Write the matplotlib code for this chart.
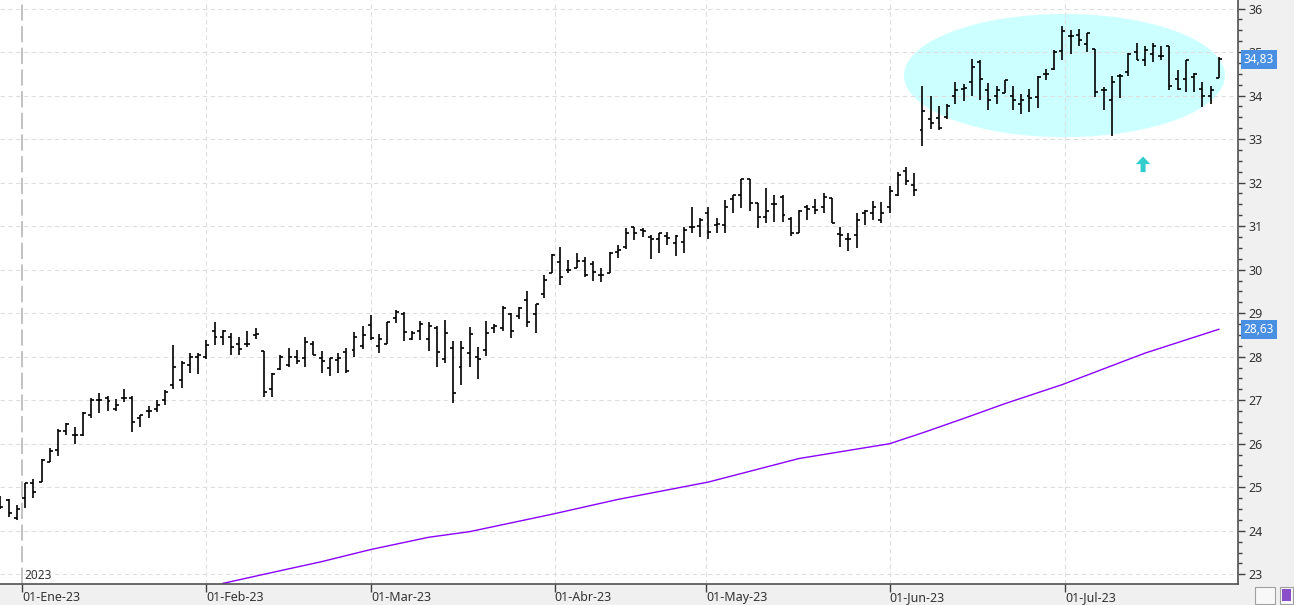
import numpy as np
import matplotlib
matplotlib.use('Agg')
import matplotlib.pyplot as plt
import matplotlib.transforms as mtransforms
from matplotlib.patches import Ellipse, Rectangle
from matplotlib.ticker import MultipleLocator

plt.rcParams['font.family'] = ['Noto Sans', 'DejaVu Sans']

# ---------------- datos OHLC (una barra por sesion, 28-dic-22 .. jul-23) ----------------
opens = [24.75, 24.7, 24.3, 24.75, 25.1, 25.13, 25.57, 25.85, 26.3, 26.2,
         26.2, 26.65, 27.0, 27.05, 26.8, 27.05, 27.05, 26.6, 26.75, 26.8,
         27.0, 27.35, 27.46, 27.8, 28.0, 28.0, 28.58, 28.46, 28.45, 28.3,
         28.3, 28.5, 28.14, 27.25, 27.72, 27.8, 28.0, 27.97, 28.3, 27.96,
         27.75, 27.93, 28.1, 28.15, 28.25, 28.73, 28.25, 28.3, 28.9, 28.97,
         28.4, 28.6, 28.4, 28.65, 27.94, 28.19, 27.77, 28.08, 28.0, 28.15,
         28.65, 28.65, 28.97, 28.93, 29.3, 28.98, 29.43, 29.92, 30.17, 30.0,
         30.03, 30.2, 30.13, 29.87, 29.92, 30.4, 30.52, 30.97, 30.9, 30.75,
         30.7, 30.77, 30.62, 30.63, 30.99, 31.0, 31.3, 31.02, 31.02, 31.62,
         31.72, 32.08, 31.52, 31.2, 31.5, 31.67, 31.16, 30.85, 31.43, 31.43,
         31.43, 31.64, 30.82, 30.7, 30.8, 31.3, 31.3, 31.14, 31.45, 31.72,
         32.26, 31.95, 33.2, 33.47, 33.49, 33.5, 34.0, 34.16, 34.31, 34.77,
         34.13, 33.98, 34.06, 34.0, 33.8, 34.0, 33.97, 34.5, 34.62, 35.02,
         35.36, 35.4, 35.19, 35.08, 34.12, 33.89, 34.44, 34.54, 35.0, 34.81,
         34.96, 34.92, 35.15, 34.39, 34.39, 34.43, 34.16, 34.0, 34.41]
highs = [24.8, 24.74, 24.6, 25.1, 25.18, 25.64, 25.9, 26.33, 26.47, 26.39,
         26.73, 27.04, 27.17, 27.1, 27.02, 27.25, 27.1, 26.67, 26.87, 27.0,
         27.23, 28.27, 27.89, 28.08, 28.09, 28.38, 28.8, 28.61, 28.54, 28.45,
         28.58, 28.65, 28.14, 27.63, 28.04, 28.19, 28.15, 28.46, 28.35, 28.13,
         27.96, 28.08, 28.19, 28.56, 28.71, 28.96, 28.52, 28.8, 29.07, 29.03,
         28.59, 28.82, 28.8, 28.71, 28.84, 28.35, 28.35, 28.69, 28.22, 28.82,
         28.76, 29.17, 29.01, 29.15, 29.5, 29.2, 29.88, 30.35, 30.51, 30.22,
         30.38, 30.3, 30.21, 30.03, 30.4, 30.57, 30.95, 30.99, 30.95, 30.8,
         30.84, 30.87, 30.8, 30.99, 31.44, 31.18, 31.44, 31.18, 31.59, 31.72,
         32.08, 32.08, 31.53, 31.87, 31.72, 31.72, 31.22, 31.37, 31.49, 31.62,
         31.76, 31.64, 30.98, 30.84, 31.31, 31.37, 31.58, 31.56, 31.92, 32.25,
         32.37, 32.23, 34.21, 34.0, 33.75, 33.81, 34.31, 34.26, 34.85, 34.81,
         34.29, 34.21, 34.36, 34.21, 34.04, 34.16, 34.44, 34.62, 35.05, 35.61,
         35.5, 35.54, 35.44, 35.08, 34.2, 34.44, 34.5, 34.98, 35.2, 35.15,
         35.2, 35.15, 35.15, 34.59, 34.82, 34.52, 34.31, 34.21, 34.89]
lows = [24.5, 24.31, 24.25, 24.52, 24.75, 25.13, 25.57, 25.72, 26.2, 26.0,
        26.18, 26.58, 26.7, 26.75, 26.76, 26.97, 26.28, 26.39, 26.59, 26.74,
        26.89, 27.25, 27.27, 27.63, 27.6, 27.94, 28.27, 28.27, 28.04, 28.04,
        28.22, 28.4, 27.07, 27.08, 27.7, 27.77, 27.83, 27.77, 28.04, 27.63,
        27.56, 27.63, 27.63, 28.0, 28.17, 28.38, 28.08, 28.3, 28.78, 28.35,
        28.38, 28.38, 28.14, 27.77, 27.86, 26.93, 27.35, 27.77, 27.48, 28.01,
        28.55, 28.58, 28.42, 28.86, 28.68, 28.54, 29.34, 29.92, 29.65, 29.92,
        30.03, 29.82, 29.75, 29.72, 29.92, 30.26, 30.47, 30.68, 30.74, 30.24,
        30.38, 30.57, 30.32, 30.38, 30.84, 30.76, 30.7, 30.84, 30.84, 31.3,
        31.41, 31.34, 30.95, 31.08, 31.1, 31.1, 30.78, 30.85, 31.13, 31.29,
        31.31, 31.08, 30.53, 30.44, 30.49, 31.03, 31.13, 31.08, 31.31, 31.69,
        31.95, 31.69, 32.85, 33.24, 33.21, 33.47, 33.8, 33.87, 34.0, 33.89,
        33.67, 33.8, 34.06, 33.67, 33.57, 33.62, 33.72, 34.35, 34.59, 34.81,
        34.95, 35.13, 35.0, 33.97, 33.67, 33.08, 33.95, 34.46, 34.82, 34.69,
        34.77, 34.81, 34.13, 34.12, 34.08, 34.08, 33.74, 33.81, 34.41]
closes = [24.55, 24.4, 24.5, 25.1, 24.9, 25.62, 25.83, 26.3, 26.45, 26.2,
          26.7, 27.0, 27.0, 26.98, 26.9, 27.05, 26.5, 26.65, 26.75, 26.9,
          27.2, 27.77, 27.85, 28.0, 28.05, 28.27, 28.45, 28.6, 28.23, 28.17,
          28.3, 28.52, 27.2, 27.6, 28.0, 28.0, 27.9, 28.33, 28.05, 27.9,
          27.96, 27.96, 27.68, 28.45, 28.5, 28.44, 28.4, 28.8, 29.03, 28.56,
          28.55, 28.74, 28.7, 28.1, 28.55, 27.16, 28.21, 28.52, 27.95, 28.55,
          28.7, 29.12, 28.6, 29.12, 28.8, 29.2, 29.76, 30.33, 29.82, 30.0,
          30.2, 29.87, 29.95, 29.87, 30.38, 30.46, 30.85, 30.85, 30.88, 30.7,
          30.84, 30.73, 30.77, 30.9, 30.99, 31.13, 30.87, 31.06, 31.45, 31.72,
          32.08, 31.53, 31.2, 31.34, 31.5, 31.26, 30.84, 31.34, 31.4, 31.38,
          31.68, 31.08, 30.8, 30.7, 31.14, 31.34, 31.45, 31.3, 31.8, 32.18,
          32.04, 31.82, 33.64, 33.37, 33.26, 33.77, 34.12, 34.18, 34.66, 34.39,
          33.9, 34.12, 34.35, 33.89, 33.9, 33.95, 34.43, 34.5, 35.0, 35.48,
          35.36, 35.28, 35.44, 34.08, 34.12, 34.31, 34.46, 34.96, 34.82, 35.05,
          35.15, 34.92, 34.23, 34.16, 34.81, 34.5, 34.0, 34.13, 34.83]

ma_pos = [28, 33, 40, 46, 53, 58, 68, 76, 87, 98, 109, 113, 118, 123, 130, 140, 149]
ma_vals = [22.79, 23.0, 23.29, 23.57, 23.85, 23.98, 24.38, 24.72, 25.12,
           25.66, 26.0, 26.25, 26.58, 26.92, 27.36, 28.08, 28.63]

# eje de fechas
month_labels = ['01-Ene-23', '01-Feb-23', '01-Mar-23', '01-Abr-23',
                '01-May-23', '01-Jun-23', '01-Jul-23']
month_pos = [3.667, 26, 46, 68.333, 86.75, 109, 130.333]

price_tags = [34.83, 28.63]
price_tag_text = ['34,83', '28,63']

bars = np.arange(1, len(opens) + 1)

fig = plt.figure(figsize=(12.94, 6.05), dpi=100, facecolor='#F0F0F0')
ax = fig.add_axes([0, 20.7 / 605, 1238 / 1294, 584.3 / 605])
ax.set_facecolor('white')
ax.set_xlim(0.94, 151.33)
ax.set_ylim(22.77, 36.196)

# zona resaltada
ax.add_patch(Ellipse((130.25, 34.46), 39.0, 2.83, facecolor='#CCFFFF',
                     edgecolor='none', zorder=0.3))

# rejilla
for y in range(23, 37):
    ax.axhline(y, color='#DEDEDE', lw=0.8, dashes=(4, 3), zorder=0.5)
for xm in month_pos[1:]:
    ax.axvline(xm, color='#DEDEDE', lw=0.8, dashes=(4, 3), zorder=0.5)
ax.axvline(month_pos[0], color='#BDBDBD', lw=1.3, dashes=(9, 3), zorder=0.6)

# barras OHLC
tick = 0.36
ax.vlines(bars, lows, highs, color='black', lw=1.2, zorder=3)
ax.hlines(opens, bars - tick, bars, color='black', lw=1.2, zorder=3)
ax.hlines(closes, bars, bars + tick, color='black', lw=1.2, zorder=3)

# media movil
ax.plot(ma_pos, ma_vals, color='#8A00FF', lw=1.0, zorder=2)

# flecha
ax.annotate('', xy=(139.8, 32.6), xytext=(139.8, 32.24),
            arrowprops=dict(facecolor='#33CCCC', edgecolor='none', width=3.6,
                            headwidth=10.5, headlength=5.5, shrink=0))

# eje de precios a la derecha
ax.yaxis.tick_right()
ax.set_yticks(range(23, 37))
ax.yaxis.set_minor_locator(MultipleLocator(0.25))
ax.tick_params(axis='y', which='major', direction='out', length=5, width=1,
               color='#404040', labelsize=9, labelcolor='#333333', pad=2.5)
ax.tick_params(axis='y', which='minor', direction='out', length=3, width=1,
               color='#404040')

ax.set_xticks(month_pos)
ax.set_xticklabels(month_labels, ha='left')
ax.tick_params(axis='x', direction='out', length=6, width=1, color='#404040',
               labelsize=9, labelcolor='#333333', pad=-1.5)

for s in ['left', 'top']:
    ax.spines[s].set_visible(False)
for s in ['right', 'bottom']:
    ax.spines[s].set_color('#505050')
    ax.spines[s].set_linewidth(1.2)

ax.annotate('2023', xy=(month_pos[0], 0), xycoords=('data', 'axes fraction'),
            xytext=(1.5, 1.5), textcoords='offset points', fontsize=8.5,
            ha='left', va='bottom', color='#333333')

# etiquetas de precio
trans = mtransforms.blended_transform_factory(ax.transAxes, ax.transData)
for p, t in zip(price_tags, price_tag_text):
    ax.text(1.0045, p, t, transform=trans, ha='left', va='center',
            color='white', fontsize=8.5, zorder=10, clip_on=False,
            bbox=dict(boxstyle='square,pad=0.25', fc='#4A90E2', ec='none'))

# botones abajo a la derecha
fig.add_artist(Rectangle((1255 / 1294, 1.5 / 605), 20 / 1294, 17 / 605,
                         transform=fig.transFigure, fc='#F8F8F8', ec='#A0A0A0', lw=0.8))
fig.add_artist(Rectangle((1280 / 1294, 1.5 / 605), 13 / 1294, 17 / 605,
                         transform=fig.transFigure, fc='#F8F8F8', ec='#A0A0A0', lw=0.8))
fig.add_artist(Rectangle((1282 / 1294, 4 / 605), 9 / 1294, 12 / 605,
                         transform=fig.transFigure, fc='#8A4FC8', ec='none'))

fig.savefig('out.png', dpi=100, facecolor=fig.get_facecolor())
